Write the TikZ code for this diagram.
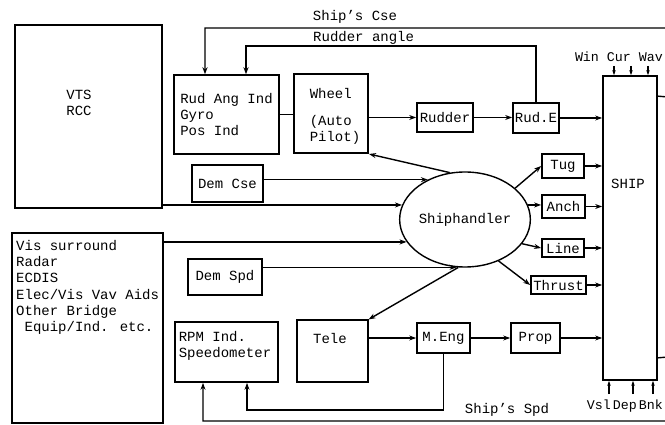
\documentclass[tikz,border=0pt]{standalone}
\usepackage{fontspec}
\setmainfont{Liberation Mono}
\usetikzlibrary{arrows.meta,shapes.geometric,calc}
\begin{document}
\begin{tikzpicture}[x=1pt,y=-1pt,
  every node/.style={font=\fontsize{14}{16.3}\selectfont},
  bx/.style={draw, line width=1.7pt, inner sep=0pt, align=left},
  thinbx/.style={draw, line width=1.1pt, inner sep=0pt, align=left},
  txt/.style={inner sep=0pt, align=left},
  conn/.style={line width=1.4pt},
  arr/.style={line width=1.4pt, -{Stealth[length=7pt,width=5pt]}},
  sarr/.style={line width=1.1pt, -{Stealth[length=5pt,width=3.5pt]}}]
\useasboundingbox (0,0) rectangle (665,425);
\clip (0,0) rectangle (665,425);

% boxes
\node[thinbx, minimum width=147pt, minimum height=183pt] (vts) at (88.5,116.5) {};
\node[txt, align=center] (vtstext) at (79,103) {VTS\\RCC};
\node[bx, minimum width=151pt, minimum height=190pt] (vis) at (87.5,328) {};
\node[txt, anchor=north west] (vistext) at (16,240) {Vis surround\\Radar\\ECDIS\\Elec/Vis Vav Aids\\Other Bridge\\\hspace*{8.4pt}Equip/Ind. etc.};
\node[thinbx, line width=1.4pt, minimum width=105pt, minimum height=79pt] (ria) at (226.5,114.5) {Rud Ang Ind\\Gyro\\Pos Ind};
\node[bx, line width=2pt, minimum width=74pt, minimum height=79pt] (wheel) at (331,113.5) {};
\node[txt] (wheeltext) at (335,116.5) {Wheel\\[11pt](Auto\\Pilot)};
\node[bx, line width=2pt, minimum width=71pt, minimum height=37pt] (demcse) at (227.5,183.5) {Dem Cse};
\node[bx, minimum width=56pt, minimum height=29pt] (rudder) at (445,117.5) {Rudder};
\node[bx, minimum width=46pt, minimum height=30pt] (rude) at (536,118) {Rud.E};
\node[bx, minimum width=54pt, minimum height=304pt] (ship) at (630,228) {};
\node[txt] (shiptext) at (628,184) {SHIP};
\node[bx, minimum width=42pt, minimum height=24pt] (tug) at (563,166) {Tug};
\node[bx, minimum width=43pt, minimum height=23pt] (anch) at (563.5,206.5) {Anch};
\node[bx, minimum width=42pt, minimum height=18pt] (line) at (563,248) {Line};
\node[bx, minimum width=55pt, minimum height=18pt] (thrust) at (558.5,285) {Thrust};
\node[draw, ellipse, line width=1.4pt, minimum width=116pt, minimum height=95pt, inner sep=0pt] (sh) at (465,219.5) {Shiphandler};
\node[bx, line width=1.5pt, minimum width=74pt, minimum height=36pt] (demspd) at (225,277) {Dem Spd};
\node[bx, minimum width=103pt, minimum height=60pt] (rpm) at (226.5,352) {};
\node[txt] (rpmtext) at (225,346) {RPM Ind.\\Speedometer};
\node[thinbx, minimum width=71pt, minimum height=62pt] (tele) at (332.5,351) {};
\node[txt] (teletext) at (330,338) {Tele};
\node[bx, minimum width=53pt, minimum height=30pt] (meng) at (443.5,338) {M.Eng};
\node[bx, minimum width=49pt, minimum height=30pt] (prop) at (535.5,338) {Prop};

% labels
\node[txt] (lcse) at (355,17) {Ship's Cse};
\node[txt, anchor=west] (lrud) at (313,38) {Rudder angle};
\node[txt] (lspd) at (507,410) {Ship's Spd};
\node[txt, anchor=east, font=\fontsize{13.3}{15}\selectfont] (lwin) at (663,57) {Win Cur Wav};
\node[txt, anchor=east, font=\fontsize{13.3}{15}\selectfont] (lvsl) at (663,406) {Vsl\hspace{2pt}Dep\hspace{2pt}Bnk};

% top chain
\draw[conn] (ria.east) -- (wheel.west |- ria.east);
\draw[arr] (wheel.east |- rudder.west) -- (rudder.west);
\draw[arr] (rudder.east) -- (rude.west |- rudder.east);
\draw[arr] (rude.east) -- (ship.west |- rude.east);

% inputs to shiphandler
\draw[arr] (demcse.east |- sh.133.5) -- (sh.133.5);
\draw[arr] (vts.east |- sh.167.4) -- (sh.167.4);
\draw[arr] (vis.east |- sh.201.4) -- (sh.201.4);
\draw[arr] (demspd.east |- sh.260) -- (sh.260);

% outputs of shiphandler
\draw[arr] (sh.108) -- (wheel.south east);
\draw[arr] (sh.262) -- (tele.north east);
\draw[arr] (sh.32) -- (tug.west);
\draw[arr] (sh.13) -- (anch.west |- sh.13);
\draw[arr] (sh.-23) -- (line.west);
\draw[arr] (sh.-51) -- (thrust.west);

% to ship
\draw[arr] (tug.east) -- (ship.west |- tug.east);
\draw[arr] (anch.east) -- (ship.west |- anch.east);
\draw[arr] (line.east) -- (ship.west |- line.east);
\draw[arr] (thrust.east) -- (ship.west |- thrust.east);

% engine chain
\draw[arr] (tele.east |- meng.west) -- (meng.west);
\draw[arr] (meng.east) -- (prop.west);
\draw[arr] (prop.east) -- (ship.west |- prop.east);

% feedback loops
\draw[arr] (meng.south) -- (443.5,410) -| ([xshift=20.5pt]rpm.south);
\draw[arr] ([yshift=23pt]ship.south east) -- (668,357) -- (668,421) -| ([xshift=-23.5pt]rpm.south);
\draw[arr] ([yshift=-21pt]ship.north east) -- (668,97) -- (668,28) -| ([xshift=-21.5pt]ria.north);
\draw[arr] (rude.north) -- ++(0,-56) -| ([xshift=19.5pt]ria.north);

% environment arrows
\coordinate (w1) at (614,66);
\coordinate (w2) at (631,66);
\coordinate (w3) at (648,66);
\draw[sarr] (w1) -- (w1 |- ship.north);
\draw[sarr] (w2) -- (w2 |- ship.north);
\draw[sarr] (w3) -- (w3 |- ship.north);
\coordinate (v1) at (609,394);
\coordinate (v2) at (633,394);
\coordinate (v3) at (653,394);
\draw[sarr] (v1) -- (v1 |- ship.south);
\draw[sarr] (v2) -- (v2 |- ship.south);
\draw[sarr] (v3) -- (v3 |- ship.south);
\end{tikzpicture}
\end{document}
